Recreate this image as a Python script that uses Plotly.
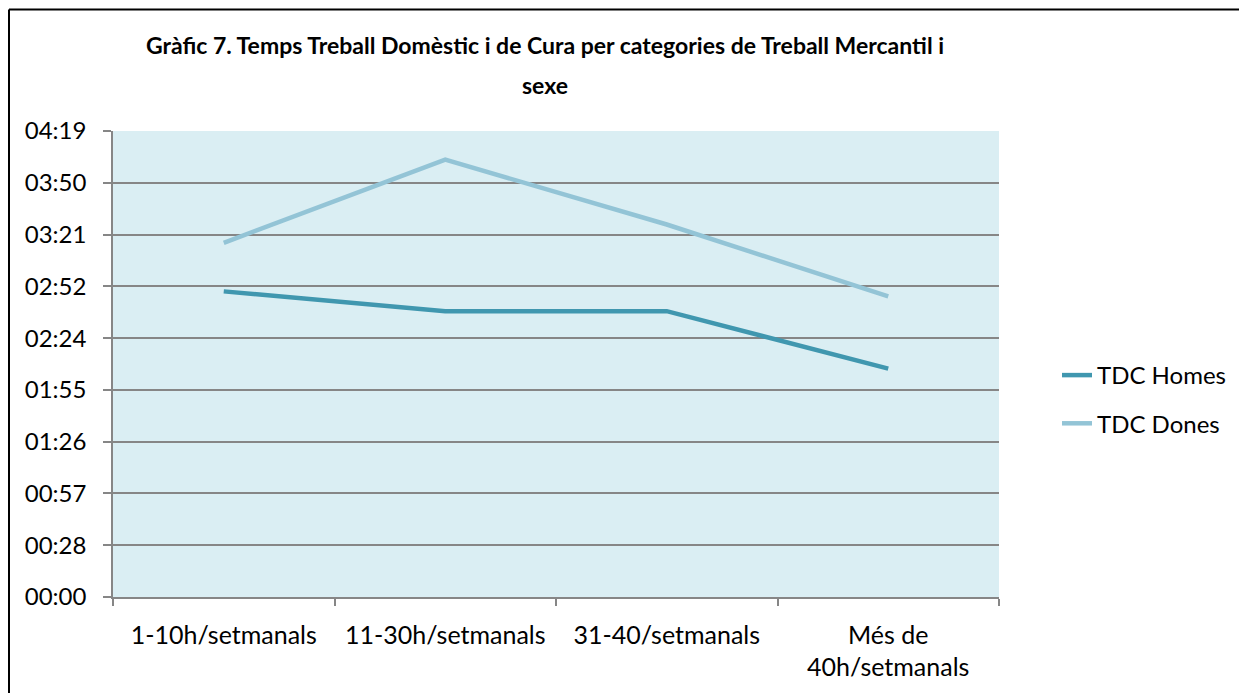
import plotly.graph_objects as go

# ------------------------------------------------------------
# data (minutes per day)
# ------------------------------------------------------------

categories = [
    "1-10h/setmanals",
    "11-30h/setmanals",
    "31-40/setmanals",
    "Més de<br>40h/setmanals",
]

tdc_homes = [170.0, 159.0, 159.0, 127.0]
tdc_dones = [197.0, 243.3, 207.2, 167.2]

y_tickvals = [0, 28.8, 57.6, 86.4, 115.2, 144.0, 172.8, 201.6, 230.4, 259.2]
y_ticktext = ["00:00", "00:28", "00:57", "01:26", "01:55",
              "02:24", "02:52", "03:21", "03:50", "04:19"]

FONT = "Lato"
OFF = 8  # page body margin
W, H = 1247, 693
L, T = 105, 123
PW, PH = 886, 466
R, B = W - L - PW, H - T - PH


# screenshot pixel -> paper coordinates
def px_x(p):
    return (p - OFF - L) / PW


def px_y(p):
    return (T + PH - (p - OFF)) / PH


fig = go.Figure()

fig.add_trace(
    go.Scatter(
        x=categories,
        y=tdc_homes,
        mode="lines",
        name="TDC Homes",
        legendgroup="h",
        line=dict(color="#4097AF", width=4.5),
    )
)

fig.add_trace(
    go.Scatter(
        x=categories,
        y=tdc_dones,
        mode="lines",
        name="TDC Dones",
        legendgroup="d",
        line=dict(color="#93C4D6", width=4.5),
    )
)

# title (two lines, as in the original)
for txt, ypix in [
    ("<b>Gràfic 7. Temps Treball Domèstic i de Cura per categories de Treball Mercantil i</b>", 45),
    ("<b>sexe</b>", 85),
]:
    fig.add_annotation(
        text=txt,
        xref="paper", yref="paper",
        x=px_x(545), y=px_y(ypix),
        xanchor="center", yanchor="middle",
        showarrow=False,
        font=dict(family=FONT, size=23, color="black"),
    )

# outer frame (only the left and top edges are inside the picture)
fig.add_shape(
    type="line",
    xref="paper", yref="paper",
    x0=px_x(9), x1=px_x(9),
    y0=px_y(720), y1=px_y(9.5),
    line=dict(color="black", width=2),
    layer="below",
)
fig.add_shape(
    type="line",
    xref="paper", yref="paper",
    x0=px_x(9), x1=px_x(1300),
    y0=px_y(9.5), y1=px_y(9.5),
    line=dict(color="black", width=2),
    layer="below",
)

fig.update_layout(
    width=W,
    height=H,
    margin=dict(l=L, r=R, t=T, b=B),
    paper_bgcolor="white",
    plot_bgcolor="#DAEEF3",
    font=dict(family=FONT, size=24, color="black"),
    showlegend=True,
    legend=dict(
        x=px_x(1057),
        xanchor="left",
        y=px_y(353),
        yanchor="top",
        font=dict(family=FONT, size=24),
        tracegroupgap=14,
        bgcolor="rgba(0,0,0,0)",
    ),
)

fig.update_xaxes(
    type="category",
    range=[-0.5, 3.5],
    showgrid=False,
    showline=True,
    linecolor="#868686",
    linewidth=1.5,
    ticks="outside",
    tickson="boundaries",
    ticklen=7,
    tickcolor="#868686",
    tickwidth=1.5,
    ticklabelstandoff=15,
    tickfont=dict(family=FONT, size=25),
)

fig.update_yaxes(
    range=[0, 259.2],
    tickvals=y_tickvals,
    ticktext=y_ticktext,
    showgrid=True,
    gridcolor="#868686",
    gridwidth=1.5,
    zeroline=False,
    showline=True,
    linecolor="#868686",
    linewidth=1.5,
    ticks="outside",
    ticklen=8,
    tickcolor="#868686",
    tickwidth=1.5,
    ticklabelstandoff=12,
    tickfont=dict(family=FONT, size=24),
)

fig.write_html("out.html")
